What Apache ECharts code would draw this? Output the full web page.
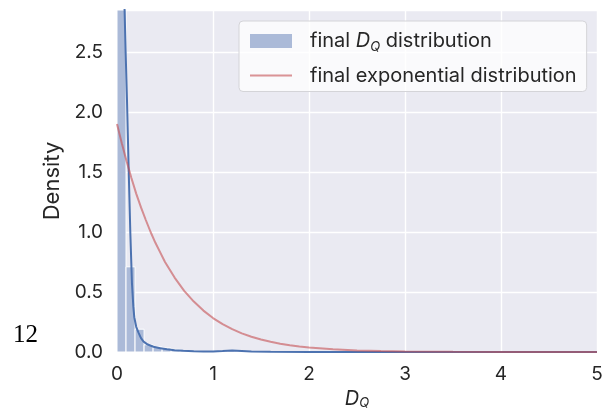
<!DOCTYPE html>
<html>
<head>
<meta charset="utf-8">
<script src="https://cdn.jsdelivr.net/npm/echarts@6/dist/echarts.min.js"></script>
<style>
  html, body { margin: 0; padding: 0; background: #fff; }
  #main { width: 616px; height: 415px; }
</style>
</head>
<body>
<div id="main"></div>
<script>
// histogram bins (left edge, right edge) and density
const histEdges = [0, 0.094, 0.188, 0.282, 0.376, 0.47, 0.564, 0.658, 0.752, 1.128, 1.222];
const histDensity = [9.5, 0.71, 0.19, 0.06, 0.044, 0.033, 0.022, 0.01, 0, 0.01];

// kde of final D_Q
const kdeX = [0, 0.02, 0.04, 0.06, 0.079, 0.09, 0.104, 0.121, 0.139, 0.156, 0.17, 0.18, 0.2, 0.225, 0.25, 0.277, 0.32, 0.38, 0.45, 0.52, 0.6, 0.69, 0.8, 0.9, 1.0, 1.1, 1.2, 1.3, 1.4, 1.6, 2.0, 2.5, 3.0, 4.0, 5.0];
const kdeY = [5.2, 4.9, 4.2, 3.5, 2.85, 2.5, 2.1, 1.54, 0.99, 0.57, 0.38, 0.29, 0.21, 0.16, 0.115, 0.086, 0.062, 0.044, 0.031, 0.022, 0.015, 0.01, 0.007, 0.005, 0.005, 0.008, 0.012, 0.008, 0.004, 0.002, 0.001, 0.0008, 0.0005, 0.0003, 0.0002];

// fitted exponential
const expX = [0, 0.05, 0.1, 0.15, 0.2, 0.25, 0.3, 0.35, 0.4, 0.45, 0.5, 0.6, 0.7, 0.8, 0.9, 1.0, 1.1, 1.2, 1.3, 1.4, 1.5, 1.6, 1.7, 1.8, 1.9, 2.0, 2.25, 2.5, 2.75, 3.0, 3.5, 4.0, 4.5, 5.0];
const expY = [1.9, 1.74, 1.59, 1.45, 1.32, 1.205, 1.10, 1.0, 0.91, 0.83, 0.75, 0.62, 0.51, 0.42, 0.345, 0.283, 0.232, 0.19, 0.155, 0.127, 0.104, 0.085, 0.069, 0.056, 0.046, 0.037, 0.022, 0.013, 0.0075, 0.0044, 0.0015, 0.0005, 0.0002, 0.0001];

const xTicks = [0, 5, 1];        // min, max, step
const yTicks = [0, 2.85, 0.5];

const HIST_NAME = "final D_Q distribution";
const EXP_NAME = "final exponential distribution";
const BAR_COLOR = "#abbad8";
const RED = "rgba(196,78,82,0.6)";
const FONT = "Inter";
const TEXT = "#262626";

const chart = echarts.init(document.getElementById("main"));

const histData = histDensity.map((d, i) => [histEdges[i], histEdges[i + 1], d]);
const zip = (xs, ys) => xs.map((x, i) => [x, ys[i]]);

const option = {
  animation: false,
  textStyle: { fontFamily: FONT },
  grid: {
    left: 117, right: 19, top: 10, bottom: 63,
    show: true, backgroundColor: "#eaeaf2", borderWidth: 0,
    outerBoundsMode: "none",
  },
  legend: {
    orient: "vertical",
    left: 239, top: 21,
    padding: [10, 10, 6, 10],
    itemWidth: 42, itemHeight: 14, itemGap: 12,
    backgroundColor: "rgba(255,255,255,0.75)",
    borderColor: "#d4d4d8", borderWidth: 1, borderRadius: 4,
    data: [
      { name: HIST_NAME, icon: "rect" },
      { name: EXP_NAME, itemStyle: { color: "rgba(0,0,0,0)", opacity: 0, borderWidth: 0 }, lineStyle: { color: RED, width: 2 } },
    ],
    formatter: (name) => name === HIST_NAME
      ? "{n|final }{i|D}{s|Q}{n| distribution}"
      : "{n|" + name + "}",
    textStyle: {
      padding: [0, 0, 0, 13],
      rich: {
        n: { fontSize: 20, lineHeight: 26, color: TEXT, fontFamily: FONT },
        i: { fontSize: 20, lineHeight: 26, color: TEXT, fontStyle: "italic", fontFamily: FONT },
        s: { fontSize: 13, color: TEXT, fontStyle: "italic", fontFamily: FONT, padding: [12, 0, 0, 0] },
      },
    },
  },
  xAxis: {
    type: "value",
    min: xTicks[0], max: xTicks[1], interval: xTicks[2],
    name: "{i|D}{s|Q}",
    nameLocation: "middle", nameGap: 33,
    nameTextStyle: {
      rich: {
        i: { fontSize: 20, lineHeight: 24, color: TEXT, fontStyle: "italic", fontFamily: FONT },
        s: { fontSize: 13, color: TEXT, fontStyle: "italic", fontFamily: FONT, padding: [8, 0, 0, 0] },
      },
    },
    axisLine: { show: false },
    axisTick: { show: false },
    axisLabel: { color: TEXT, fontSize: 19, margin: 13, fontFamily: FONT },
    splitLine: { lineStyle: { color: "#ffffff", width: 1.4 } },
  },
  yAxis: {
    type: "value",
    min: yTicks[0], max: yTicks[1], interval: yTicks[2],
    name: "Density",
    nameLocation: "middle", nameGap: 49,
    nameTextStyle: { color: TEXT, fontSize: 22, fontFamily: FONT },
    axisLine: { show: false },
    axisTick: { show: false },
    axisLabel: {
      color: TEXT, fontSize: 19, margin: 14, fontFamily: FONT,
      showMaxLabel: false,
      formatter: (v) => v.toFixed(1),
    },
    splitLine: { lineStyle: { color: "#ffffff", width: 1.4 } },
  },
  graphic: [
    {
      type: "text", left: 13, top: 323,
      style: { text: "12", fontSize: 25, fontFamily: "Liberation Serif", fill: "#000" },
    },
  ],
  series: [
    {
      name: HIST_NAME,
      type: "custom",
      itemStyle: { color: BAR_COLOR },
      encode: { x: [0, 1], y: 2 },
      data: histData,
      renderItem: function (params, api) {
        const p0 = api.coord([api.value(0), api.value(2)]);
        const p1 = api.coord([api.value(1), 0]);
        const shape = echarts.graphic.clipRectByRect(
          { x: p0[0], y: p0[1], width: p1[0] - p0[0], height: p1[1] - p0[1] },
          { x: params.coordSys.x, y: params.coordSys.y, width: params.coordSys.width, height: params.coordSys.height }
        );
        return shape && {
          type: "rect",
          shape: shape,
          style: { fill: BAR_COLOR, stroke: "#ffffff", lineWidth: 1 },
        };
      },
    },
    {
      name: "kde",
      type: "line",
      data: zip(kdeX, kdeY),
      symbol: "none",
      clip: true,
      lineStyle: { color: "#4c72b0", width: 2 },
      itemStyle: { color: "#4c72b0" },
      z: 3,
    },
    {
      name: EXP_NAME,
      type: "line",
      data: zip(expX, expY),
      symbol: "none",
      clip: true,
      lineStyle: { color: RED, width: 2 },
      itemStyle: { color: RED },
      z: 4,
    },
  ],
};

chart.setOption(option);
</script>
</body>
</html>
